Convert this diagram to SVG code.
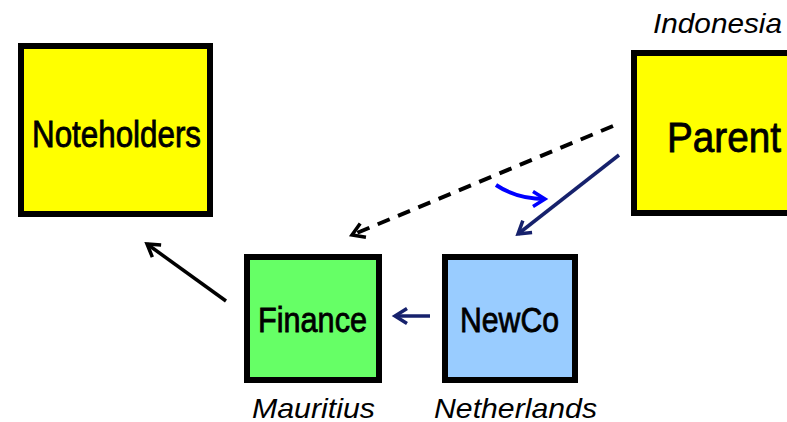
<svg xmlns="http://www.w3.org/2000/svg" width="787" height="422" viewBox="0 0 787 422">
  <style>
    .box { stroke: #000; stroke-width: 6; }
    .lbl { font-family: "Liberation Sans Narrow", "Liberation Sans", Arial, sans-serif; font-weight: normal; fill: #000; stroke: #000; stroke-width: 0.8; text-anchor: middle; }
    .loc { font-family: "Liberation Sans", Arial, sans-serif; font-style: italic; font-size: 28px; fill: #000; }
    .ln { fill: none; stroke-linecap: butt; }
  </style>
  <defs>
    <marker id="ahBlack" markerUnits="userSpaceOnUse" viewBox="-16 -10 20 20" refX="0" refY="0" markerWidth="20" markerHeight="20" orient="auto" overflow="visible">
      <path d="M -12 -7.5 L 0 0 L -12 7.5" fill="none" stroke="#000" stroke-width="3.5"/>
    </marker>
    <marker id="ahNavy" markerUnits="userSpaceOnUse" viewBox="-16 -10 20 20" refX="0" refY="0" markerWidth="20" markerHeight="20" orient="auto" overflow="visible">
      <path d="M -12 -7.5 L 0 0 L -12 7.5" fill="none" stroke="#16216C" stroke-width="3.5"/>
    </marker>
    <marker id="ahBlue" markerUnits="userSpaceOnUse" viewBox="-16 -10 20 20" refX="0" refY="0" markerWidth="20" markerHeight="20" orient="auto" overflow="visible">
      <path d="M -12 -7.5 L 0 0 L -12 7.5" fill="none" stroke="#0000FF" stroke-width="3.5"/>
    </marker>
  </defs>

  <g id="noteholders">
    <rect class="box" x="21" y="46" width="189" height="168" fill="#FFFF00"/>
    <text class="lbl" x="116.5" y="147" font-size="36" textLength="169" lengthAdjust="spacingAndGlyphs">Noteholders</text>
  </g>

  <g id="parent">
    <rect class="box" x="634" y="53" width="200" height="160" fill="#FFFF00"/>
    <text class="lbl" x="724" y="152" font-size="42" textLength="114" lengthAdjust="spacingAndGlyphs">Parent</text>
    <text class="loc" x="653" y="33" textLength="129" lengthAdjust="spacingAndGlyphs">Indonesia</text>
  </g>

  <g id="finance">
    <rect class="box" x="247" y="257" width="132" height="123" fill="#66FF66"/>
    <text class="lbl" x="312.5" y="332" font-size="35" textLength="109" lengthAdjust="spacingAndGlyphs">Finance</text>
    <text class="loc" x="252" y="418" textLength="123" lengthAdjust="spacingAndGlyphs">Mauritius</text>
  </g>

  <g id="newco">
    <rect class="box" x="445" y="257" width="130" height="123" fill="#99CCFF"/>
    <text class="lbl" x="509.5" y="332" font-size="35" textLength="99" lengthAdjust="spacingAndGlyphs">NewCo</text>
    <text class="loc" x="434" y="418" textLength="163" lengthAdjust="spacingAndGlyphs">Netherlands</text>
  </g>

  <g id="connectors">
    <line class="ln" x1="226" y1="301" x2="147" y2="244" stroke="#000" stroke-width="3.5" marker-end="url(#ahBlack)"/>
    <line class="ln" x1="613" y1="126" x2="352" y2="235" stroke="#000" stroke-width="4" stroke-dasharray="13 9" marker-end="url(#ahBlack)"/>
    <line class="ln" x1="619" y1="155" x2="518" y2="234" stroke="#16216C" stroke-width="3.5" marker-end="url(#ahNavy)"/>
    <line class="ln" x1="430" y1="316" x2="395" y2="316" stroke="#16216C" stroke-width="3.5" marker-end="url(#ahNavy)"/>
    <path class="ln" d="M 496 185 Q 517 199 545 199" stroke="#0000FF" stroke-width="4" marker-end="url(#ahBlue)"/>
  </g>
</svg>
